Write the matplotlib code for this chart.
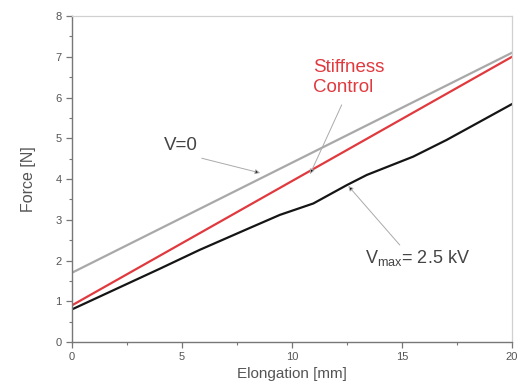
import matplotlib
matplotlib.use("Agg")
import matplotlib.pyplot as plt
from matplotlib.ticker import MultipleLocator

plt.rcParams['font.family'] = ['Liberation Sans', 'DejaVu Sans']

# Data
x_v0 = [0, 20]
f_v0 = [1.7, 7.1]

x_sc = [0, 20]
f_sc = [0.9, 7.0]

x_vmax = [0, 2, 4, 5.8, 8, 9.45, 10.97, 12.49, 13.4, 15.51, 17.03, 18.55, 20]
f_vmax = [0.8, 1.3, 1.8, 2.26, 2.78, 3.12, 3.40, 3.85, 4.10, 4.55, 4.96, 5.41, 5.84]

xticks = [0, 5, 10, 15, 20]
yticks = [0, 1, 2, 3, 4, 5, 6, 7, 8]

fig = plt.figure(figsize=(5.27, 3.92), dpi=100)
ax = fig.add_axes([0.1366, 0.1276, 0.8349, 0.8314])

ax.plot(x_v0, f_v0, color='#a8a8a8', lw=1.6)
ax.plot(x_sc, f_sc, color='#e03a3f', lw=1.6)
ax.plot(x_vmax, f_vmax, color='#151515', lw=1.6)

ax.set_xlim(0, 20)
ax.set_ylim(0, 8)
ax.set_xticks(xticks)
ax.set_yticks(yticks)
ax.xaxis.set_minor_locator(MultipleLocator(2.5))
ax.yaxis.set_minor_locator(MultipleLocator(0.5))
ax.tick_params(which='major', direction='out', length=4, width=0.9, color='#777777',
               labelsize=8, labelcolor='#555555')
ax.tick_params(which='minor', direction='out', length=2, width=0.8, color='#777777')

for s in ['left', 'bottom']:
    ax.spines[s].set_color('#777777')
    ax.spines[s].set_linewidth(1.0)
for s in ['top', 'right']:
    ax.spines[s].set_color('#d0d0d0')
    ax.spines[s].set_linewidth(0.9)

ax.set_xlabel('Elongation [mm]', fontsize=11, color='#555555', labelpad=3)
ax.set_ylabel('Force [N]', fontsize=11.5, color='#555555', labelpad=14)

arrow = dict(arrowstyle='-|>', ec='#aaaaaa', fc='#111111', lw=0.7, mutation_scale=7,
             shrinkA=0, shrinkB=0)

ax.text(4.95, 4.83, 'V=0', fontsize=13.5, color='#444444', ha='center', va='center')
ax.annotate('', xy=(8.55, 4.15), xytext=(5.9, 4.51), arrowprops=arrow)

ax.text(10.95, 6.49, 'Stiffness\nControl', fontsize=13.5, color='#e03a3f', ha='left',
        va='center', linespacing=1.2)
ax.annotate('', xy=(10.82, 4.12), xytext=(12.26, 5.82), arrowprops=arrow)

ax.text(13.3, 2.06, r'V$_{\mathregular{max}}$= 2.5 kV', fontsize=13, color='#444444',
        ha='left', va='center')
ax.annotate('', xy=(12.56, 3.83), xytext=(14.9, 2.38), arrowprops=arrow)

fig.savefig('out.png', dpi=100)
